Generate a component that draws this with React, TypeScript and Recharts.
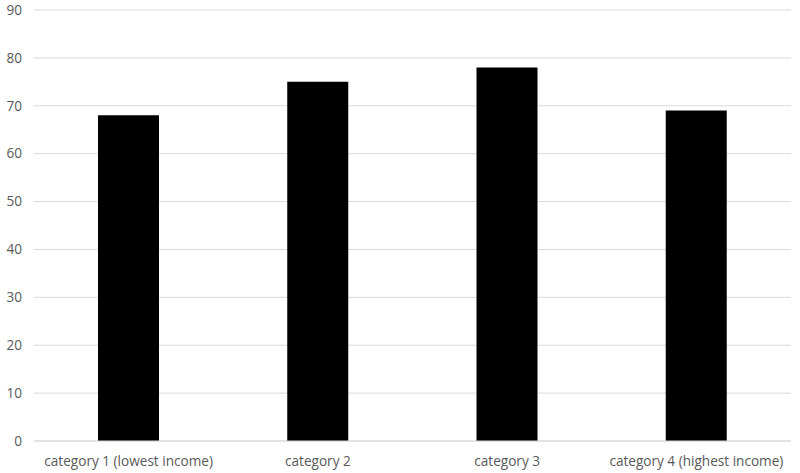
import { BarChart, Bar, XAxis, YAxis, CartesianGrid } from 'recharts'

const categories = ['category 1 (lowest income)', 'category 2', 'category 3', 'category 4 (highest income)']
const values = [68, 75, 78, 69]
const yTicks = [0, 10, 20, 30, 40, 50, 60, 70, 80, 90]

const data = categories.map((name, i) => ({ name, value: values[i] }))

const tickStyle = { fill: '#595959', fontSize: 13.6, fontFamily: 'Open Sans, sans-serif' }

export default function App() {
  return (
    <div style={{ position: 'absolute', left: 0, top: 0, width: 800, height: 473, background: '#fff' }}>
      <BarChart width={800} height={473} data={data} margin={{ top: 10, right: 9, left: 0, bottom: 0 }}>
        <CartesianGrid horizontal vertical={false} stroke="#d9d9d9" />
        <XAxis
          dataKey="name"
          axisLine={{ stroke: '#d9d9d9' }}
          tickLine={false}
          tickSize={0}
          tickMargin={15}
          height={32}
          tick={tickStyle}
          interval={0}
        />
        <YAxis
          domain={[0, 90]}
          ticks={yTicks}
          axisLine={false}
          tickLine={false}
          tickSize={0}
          tickMargin={12}
          width={34}
          tick={tickStyle}
        />
        <Bar dataKey="value" fill="#000" barSize={61} isAnimationActive={false} />
      </BarChart>
    </div>
  )
}
